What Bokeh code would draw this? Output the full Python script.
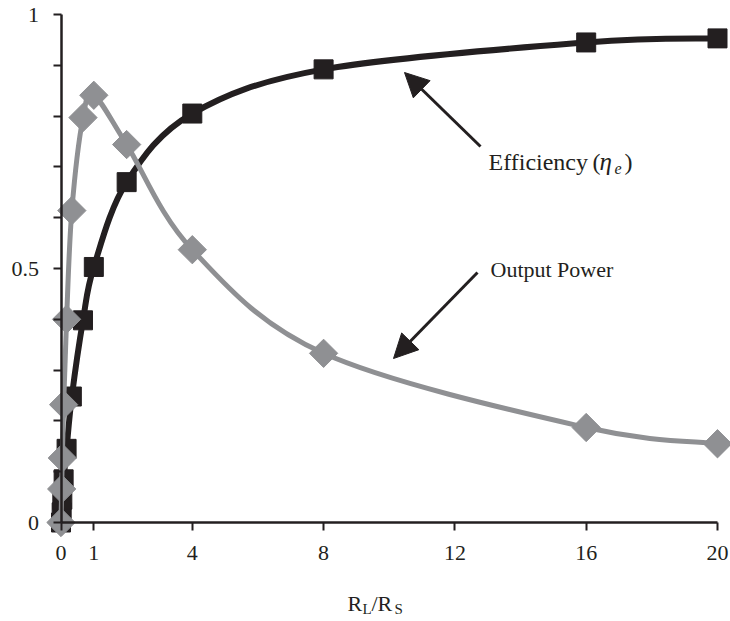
import numpy as np
from bokeh.plotting import figure
from bokeh.models import Range1d, FixedTicker, Label, Arrow, NormalHead, ColumnDataSource
from bokeh.embed import file_html
from bokeh.resources import INLINE

# ---- data ----
ratio = [0, 0.02, 0.04, 0.08, 0.17, 0.33, 0.67, 1, 2, 4, 8, 16, 20]
efficiency = [0, 0.02, 0.045, 0.085, 0.145, 0.248, 0.398, 0.503, 0.670, 0.805, 0.892, 0.945, 0.953]
output_power = [0, 0.066, 0.127, 0.232, 0.400, 0.614, 0.797, 0.841, 0.744, 0.537, 0.333, 0.187, 0.155]
x_ticks = [0, 1, 4, 8, 12, 16, 20]
y_ticks = [0, 0.1, 0.2, 0.3, 0.4, 0.5, 0.6, 0.7, 0.8, 0.9, 1.0]
y_labels = {0: "0", 0.5: "0.5", 1.0: "1"}

BLACK = "#231f20"
GRAY = "#8f9093"
FONT = "Liberation Serif"

W, H = 730, 621
X0_PX, X_PER = 60.5, 32.825      # pixel of x=0, pixels per x unit
Y0_PX, Y_PER = 522.0, 508.0      # pixel of y=0, pixels per y unit
TEXT_SHIFT = -9                  # baseline correction for label rendering


def smooth_segments(xs, ys):
    """Bezier control points for a Catmull-Rom style smoothed line through the data."""
    xs = np.asarray(xs, float)
    ys = np.asarray(ys, float)
    n = len(xs)
    d = dict(x0=[], y0=[], x1=[], y1=[], cx0=[], cy0=[], cx1=[], cy1=[])
    for i in range(n - 1):
        a = max(i - 1, 0)
        b = min(i + 2, n - 1)
        d["x0"].append(xs[i]); d["y0"].append(ys[i])
        d["x1"].append(xs[i + 1]); d["y1"].append(ys[i + 1])
        d["cx0"].append(xs[i] + (xs[i + 1] - xs[a]) / 6)
        d["cy0"].append(ys[i] + (ys[i + 1] - ys[a]) / 6)
        d["cx1"].append(xs[i + 1] - (xs[b] - xs[i]) / 6)
        d["cy1"].append(ys[i + 1] - (ys[b] - ys[i]) / 6)
    return ColumnDataSource(d)


def px_x(px):
    return (px - X0_PX) / X_PER


def px_y(py):
    return (Y0_PX - py) / Y_PER


p = figure(width=W, height=H, output_backend="svg", toolbar_location=None,
           x_range=Range1d(px_x(0), px_x(W)), y_range=Range1d(px_y(H), px_y(0)),
           min_border_left=0, min_border_right=0, min_border_top=0, min_border_bottom=0)
p.outline_line_color = None
p.grid.visible = False
p.background_fill_color = "white"
p.border_fill_color = "white"

for ax in (p.xaxis[0], p.yaxis[0]):
    ax.fixed_location = 0
    ax.axis_line_color = BLACK
    ax.axis_line_width = 2.5
    ax.major_tick_line_color = BLACK
    ax.major_tick_line_width = 2
    ax.major_tick_in = 0
    ax.major_tick_out = 8
    ax.minor_tick_line_color = None
    ax.major_label_text_font = FONT
    ax.major_label_text_font_size = "22px"
    ax.major_label_text_color = BLACK

p.xaxis.bounds = (0, 20)
p.yaxis.bounds = (0, 1)
p.xaxis.ticker = FixedTicker(ticks=x_ticks)
p.xaxis.major_label_standoff = 15
p.yaxis.ticker = FixedTicker(ticks=y_ticks)
p.yaxis.major_label_overrides = {t: y_labels.get(t, "") for t in y_ticks}
p.yaxis.major_label_standoff = 14

# efficiency
p.bezier(x0="x0", y0="y0", x1="x1", y1="y1", cx0="cx0", cy0="cy0", cx1="cx1", cy1="cy1",
         source=smooth_segments(ratio, efficiency), line_color=BLACK, line_width=6)
p.scatter(ratio, efficiency, marker="square", size=19, fill_color=BLACK, line_color=BLACK)

# output power
p.bezier(x0="x0", y0="y0", x1="x1", y1="y1", cx0="cx0", cy0="cy0", cx1="cx1", cy1="cy1",
         source=smooth_segments(ratio, output_power), line_color=GRAY, line_width=5)
p.scatter(ratio, output_power, marker="square", angle=np.pi / 4, size=20,
          fill_color=GRAY, line_color=GRAY)


def lab(px, py, t, size="22px", style="normal"):
    p.add_layout(Label(x=px_x(px), y=px_y(py + TEXT_SHIFT), text=t, text_font=FONT,
                       text_font_size=size, text_font_style=style, text_color=BLACK,
                       text_baseline="alphabetic", text_align="left"))


# annotations
lab(488, 170, "Efficiency", size="24px")
lab(592, 170, "(", size="24px")
lab(599, 170, "\u03b7", size="25px", style="italic")
lab(614, 177, "e", size="16px", style="italic")
lab(624, 170, ")", size="24px")
lab(490, 278, "Output Power")

# x axis title R_L/R_S
lab(347, 612, "R")
lab(362, 617, "L", size="15px")
lab(371, 612, "/R")
lab(394, 617, "S", size="15px")

for (sx, sy), (ex, ey) in [((480, 146), (404, 72)), ((477, 272), (393, 358))]:
    p.add_layout(Arrow(end=NormalHead(size=24, fill_color=BLACK, line_color=BLACK),
                       x_start=px_x(sx), y_start=px_y(sy), x_end=px_x(ex), y_end=px_y(ey),
                       line_color=BLACK, line_width=3))

open("out.html", "w").write(file_html(p, INLINE))
